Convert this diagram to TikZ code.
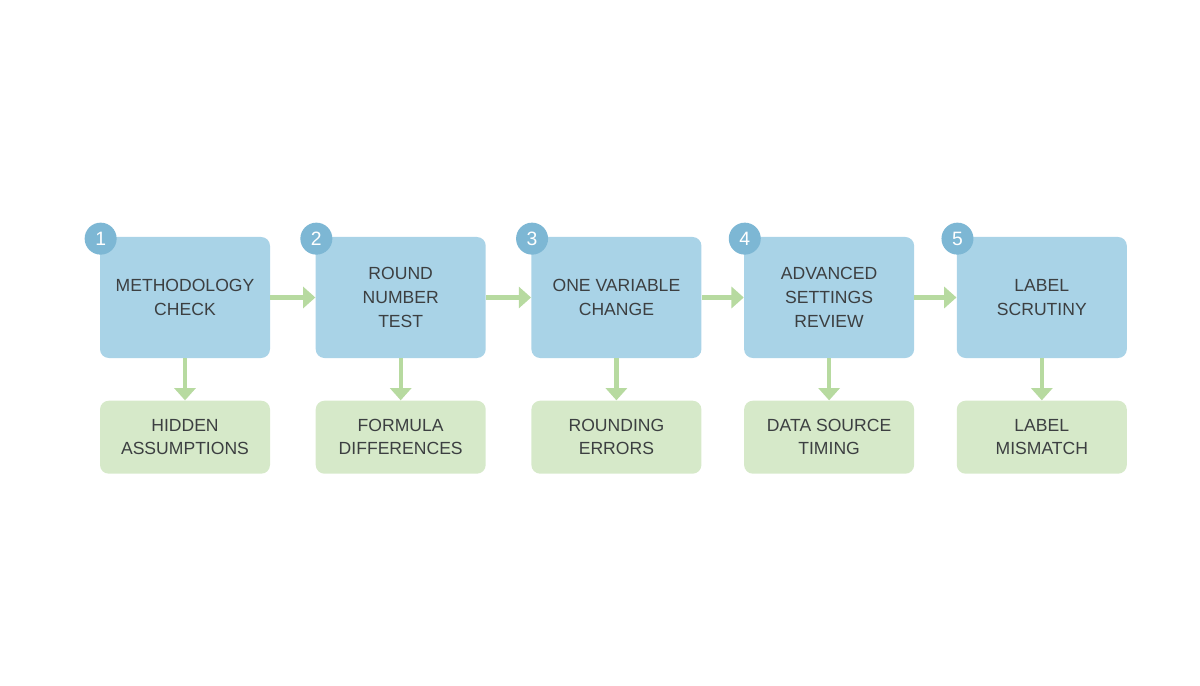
\documentclass[tikz,border=0pt]{standalone}
\usepackage{fontspec}
\setmainfont{Liberation Sans}
\usetikzlibrary{positioning,arrows.meta}
\definecolor{stepblue}{HTML}{A9D3E7}
\definecolor{badgeblue}{HTML}{7DB7D4}
\definecolor{issuegreen}{HTML}{D6E9C9}
\definecolor{flowgreen}{HTML}{B7DAA0}
\definecolor{labelgray}{HTML}{3C3F41}
\tikzset{
  checkbox/.style={fill=stepblue, rounded corners=5pt, minimum width=3.4cm, minimum height=2.42cm,
    align=center, text=labelgray, font=\fontsize{10}{13.5}\selectfont},
  issue/.style={fill=issuegreen, rounded corners=5pt, minimum width=3.4cm, minimum height=1.46cm,
    align=center, text=labelgray, font=\fontsize{10}{13}\selectfont},
  badge/.style={fill=badgeblue, circle, minimum size=0.64cm, inner sep=0pt, text=white,
    font=\fontsize{11}{11}\selectfont},
  flow/.style={draw=flowgreen, line width=2.4pt, -{Triangle[length=7pt,width=12pt]}}
}
\begin{document}
\begin{tikzpicture}
  \useasboundingbox (0,0) rectangle (24,-13.72);

  \node[checkbox] (s1) at (3.7,-5.95) {METHODOLOGY\\CHECK};
  \node[checkbox, right=0.9cm of s1] (s2) {ROUND\\NUMBER\\TEST};
  \node[checkbox, right=0.9cm of s2] (s3) {ONE VARIABLE\\CHANGE};
  \node[checkbox, right=0.84cm of s3] (s4) {ADVANCED\\SETTINGS\\REVIEW};
  \node[checkbox, right=0.84cm of s4] (s5) {LABEL\\SCRUTINY};

  \node[issue, below=0.84cm of s1] (i1) {HIDDEN\\ASSUMPTIONS};
  \node[issue, below=0.84cm of s2] (i2) {FORMULA\\DIFFERENCES};
  \node[issue, below=0.84cm of s3] (i3) {ROUNDING\\ERRORS};
  \node[issue, below=0.84cm of s4] (i4) {DATA SOURCE\\TIMING};
  \node[issue, below=0.84cm of s5] (i5) {LABEL\\MISMATCH};

  % numbered badges
  \foreach \n in {1,...,5}
    \node[badge] (b\n) at ([xshift=0.02cm,yshift=-0.04cm]s\n.north west) {\n};

  % flow between steps
  \foreach \a/\b in {1/2,2/3,3/4,4/5}
    \draw[flow] (s\a.east) -- (s\b.west);
  \foreach \n in {1,...,5}
    \draw[flow] (s\n.south) -- (i\n.north);
\end{tikzpicture}
\end{document}
